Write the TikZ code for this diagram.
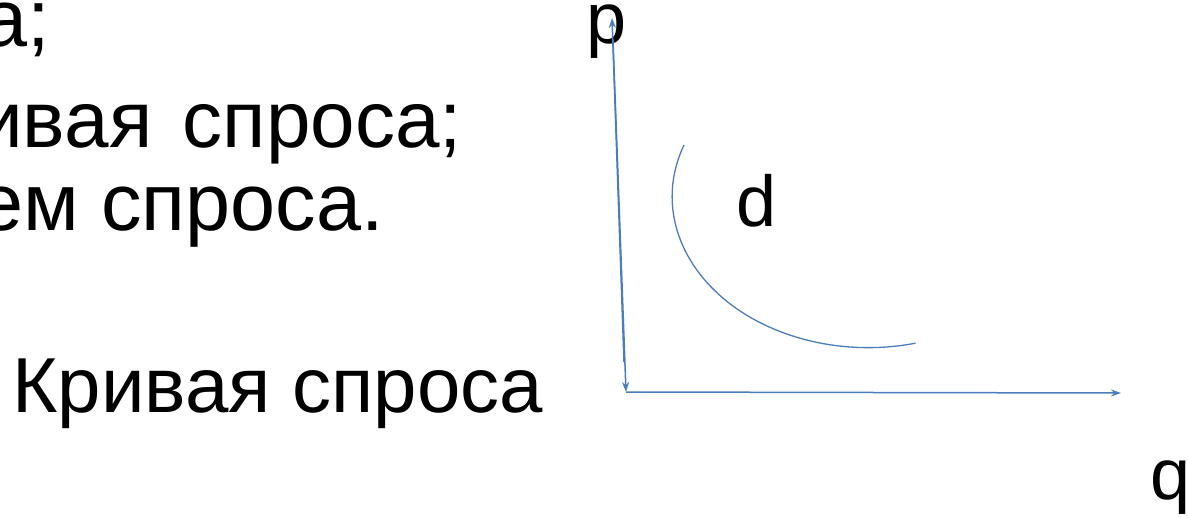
\documentclass[tikz,border=0pt]{standalone}
\usepackage{fontspec}
\setmainfont{Liberation Sans}
\usetikzlibrary{arrows.meta}
\definecolor{axisblue}{HTML}{4A7EBB}
\tikzset{
  bigtext/.style={inner sep=0pt, anchor=base east, font=\fontsize{81}{100}\selectfont},
  lbl/.style={inner sep=0pt, anchor=base west, font=\fontsize{72}{80}\selectfont},
  axis/.style={draw=axisblue, line width=1.5pt, -{Stealth[length=10pt,width=7pt]}},
  curve/.style={draw=axisblue, line width=1.3pt}
}
\begin{document}
\begin{tikzpicture}[x=1pt,y=-1pt]
\useasboundingbox (0,0) rectangle (1188,518);
\node[bigtext] (t1) at (50,47) {а;};
\node[bigtext, font=\fontsize{80}{100}\selectfont] (t2) at (462,148) {ивая\hspace{0.38em}спроса;};
\node[bigtext] (t3) at (384,231) {ем спроса.};
\node[bigtext, anchor=base west, font=\fontsize{78}{100}\selectfont] (t4) at (12,412) {Кривая спроса};
\node[lbl] (p) at (586,44) {p};
\node[lbl] (d) at (736,227) {d};
\node[lbl] (q) at (1150,499) {q};
\coordinate (top) at (612,18);
\coordinate (top2) at (613,40);
\coordinate (vs) at (624,362);
\coordinate (o) at (626,392);
\coordinate (xe) at (1121,393);
\coordinate (cs) at (684,145);
\draw[axis] (vs) -- (top);
\draw[axis] (top2) -- (o);
\draw[axis] (o) -- (xe);
\draw[curve] (cs) arc[start angle=200, end angle=76, x radius=196, y radius=151];
\end{tikzpicture}
\end{document}
